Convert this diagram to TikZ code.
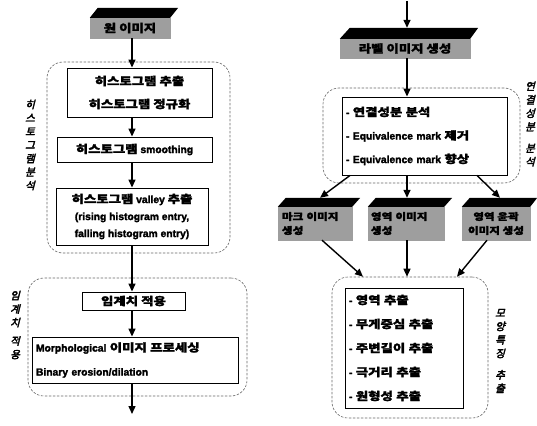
\documentclass[tikz,border=0pt]{standalone}
\usepackage{fontspec}
\setmainfont{Liberation Sans}[BoldFont={Liberation Sans Bold},BoldFeatures={FakeBold=2.2}]
\newfontfamily\hgfont[FakeStretch=1.22,BoldFeatures={FakeBold=2.0}]{Noto Sans CJK KR}
\newfontfamily\hgslfont[FakeSlant=0.25,FakeBold=3.2]{Noto Sans CJK KR}
\newcommand\hg[1]{{\hgfont\bfseries\fontsize{11}{12}\selectfont #1}}
\newcommand\hgs[1]{{\hgfont\bfseries\fontsize{9.5}{11}\selectfont #1}}
\usetikzlibrary{arrows.meta}
\begin{document}
\begin{tikzpicture}[x=1pt,y=-1pt,
  box/.style={draw,line width=0.9pt,fill=white,inner sep=0pt},
  region/.style={draw=black!60,dash pattern=on 2.5pt off 1.5pt,line width=0.6pt,rounded corners=16pt,inner sep=0pt},
  arr/.style={line width=1.4pt,-{Triangle[length=8pt,width=7pt]}},
  gbox/.style={fill=black!38,draw=black!38,inner sep=0pt},
  vlab/.style={font=\hgslfont\fontsize{10.5}{13.5}\selectfont,align=center,inner sep=0pt}
]
\useasboundingbox (0,0) rectangle (537,425);

% dashed regions
\node[region,minimum width=183pt,minimum height=191pt] (r1) at (138.5,157.5) {};
\node[region,minimum width=219pt,minimum height=118pt] (r2) at (137.5,337) {};
\node[region,minimum width=197pt,minimum height=95pt] (r3) at (421.5,135.5) {};
\node[region,minimum width=156pt,minimum height=141pt] (r4) at (410,347.5) {};

% left column boxes
\node[box,minimum width=145pt,minimum height=49pt,align=center,font=\bfseries\fontsize{10.3}{23}\selectfont] (b1) at (139.5,92.5) {\hg{히스토그램 추출}\\\hg{히스토그램 정규화}};
\node[box,minimum width=155pt,minimum height=25pt,align=center,font=\bfseries\fontsize{10.3}{12}\selectfont] (b2) at (134.5,149.5) {\hg{히스토그램} smoothing};
\node[box,minimum width=152pt,minimum height=57pt,align=center,font=\bfseries\fontsize{10.3}{17}\selectfont] (b3) at (132,216.5) {\hg{히스토그램} valley \hg{추출}\\(rising histogram entry,\\falling histogram entry)};
\node[box,minimum width=103pt,minimum height=18pt,align=center,font=\bfseries\fontsize{10.3}{12}\selectfont] (b4) at (133.5,301) {\hg{임계치 적용}};
\node[box,minimum width=206pt,minimum height=46pt,text width=198pt,align=left,font=\bfseries\fontsize{10.3}{24}\selectfont] (b5) at (135,360) {Morphological \hg{이미지 프로세싱}\\Binary erosion/dilation};

% right column boxes
\node[box,minimum width=165pt,minimum height=78pt,text width=157pt,align=left,font=\bfseries\fontsize{10.3}{23.5}\selectfont] (b6) at (424.5,136) {- \hg{연결성분 분석}\\- Equivalence mark \hg{제거}\\- Equivalence mark \hg{향상}};
\node[box,minimum width=118pt,minimum height=120pt,text width=110pt,align=left,font=\bfseries\fontsize{10.3}{24}\selectfont] (b7) at (404,348) {- \hg{영역 추출}\\- \hg{무게중심 추출}\\- \hg{주변길이 추출}\\- \hg{극거리 추출}\\- \hg{원형성 추출}};

% data shapes
\node[gbox,minimum width=80pt,minimum height=20pt] (d1) at (130,28) {\hg{원 이미지}};
\fill (d1.north west) -- ([shift={(8pt,10pt)}]d1.north west) -- ([shift={(8pt,10pt)}]d1.north east) -- (d1.north east) -- cycle;

\node[gbox,minimum width=130pt,minimum height=19pt] (d2) at (405,48.5) {\hg{라벨 이미지 생성}};
\fill (d2.north west) -- ([shift={(10pt,11pt)}]d2.north west) -- ([shift={(8pt,11pt)}]d2.north east) -- (d2.north east) -- cycle;

\node[gbox,minimum width=74pt,minimum height=33pt,text width=66pt,align=left,font=\fontsize{9.5}{14}\selectfont] (d3) at (315,223.5) {\hgs{마크 이미지}\\\hgs{생성}};
\fill (d3.north west) -- ([shift={(8pt,9pt)}]d3.north west) -- ([shift={(8pt,9pt)}]d3.north east) -- (d3.north east) -- cycle;

\node[gbox,minimum width=76pt,minimum height=33pt,text width=70pt,align=left,font=\fontsize{9.5}{14}\selectfont] (d4) at (406,223.5) {\hgs{영역 이미지}\\\hgs{생성}};
\fill (d4.north west) -- ([shift={(8pt,9pt)}]d4.north west) -- ([shift={(8pt,9pt)}]d4.north east) -- (d4.north east) -- cycle;

\node[gbox,minimum width=68pt,minimum height=33pt,align=center,font=\fontsize{9.5}{14}\selectfont] (d5) at (496,223.5) {\hgs{영역 윤곽}\\\hgs{이미지 생성}};
\fill (d5.north west) -- ([shift={(8pt,9pt)}]d5.north west) -- ([shift={(7pt,9pt)}]d5.north east) -- (d5.north east) -- cycle;

% vertical labels
\node[vlab] (v1) at (30,145) {히\\스\\토\\그\\램\\분\\석};
\node[vlab] (v2) at (15,325) {임\\계\\치\\[5pt]적\\용};
\node[vlab] (v3) at (530,124) {연\\결\\성\\분\\[8pt]분\\석};
\node[vlab] (v4) at (500,351) {모\\양\\특\\징\\[8pt]추\\출};

% connectors
\coordinate (cL) at (132,0);
\coordinate (cR) at (407,0);
\coordinate (endL) at (132,414);
\coordinate (startR) at (407,1);
\draw[arr] (d1.south -| cL) -- (b1.north -| cL);
\draw[arr] (b1.south -| cL) -- (b2.north -| cL);
\draw[arr] (b2.south -| cL) -- (b3.north -| cL);
\draw[arr] (b3.south -| cL) -- (b4.north -| cL);
\draw[arr] (b4.south -| cL) -- (b5.north -| cL);
\draw[arr] (b5.south -| cL) -- (endL);

\draw[arr] (startR) -- ([yshift=11pt]d2.north -| cR);
\draw[arr] (d2.south -| cR) -- (b6.north -| cR);
\draw[arr] ([xshift=-74.5pt]b6.south) -- ([shift={(5pt,9pt)}]d3.north);
\draw[arr] (b6.south -| cR) -- ([yshift=9pt]d4.north -| cR);
\draw[arr] ([xshift=52.5pt]b6.south) -- ([shift={(4pt,9pt)}]d5.north);
\draw[arr] ([xshift=7pt]d3.south) -- ([xshift=-47pt]r4.north);
\draw[arr] (d4.south -| cR) -- (r4.north -| cR);
\draw[arr] ([xshift=-9pt]d5.south) -- ([xshift=47pt]r4.north);
\end{tikzpicture}
\end{document}
